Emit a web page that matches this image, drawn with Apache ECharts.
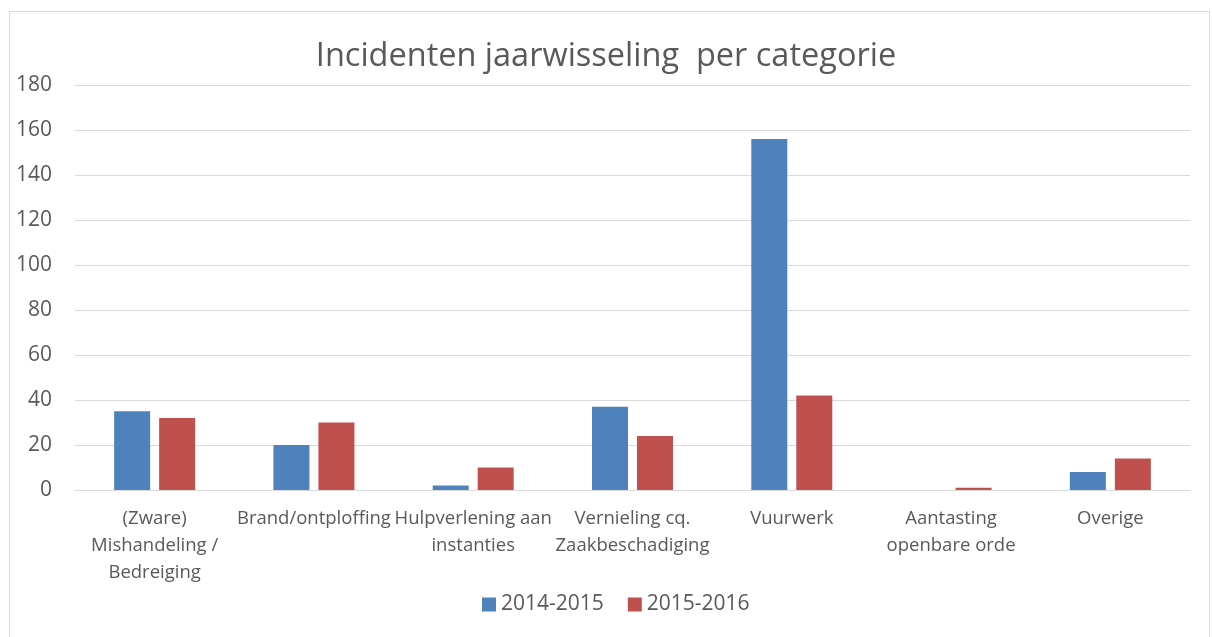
<!DOCTYPE html>
<html><head><meta charset="utf-8">
<script src="https://cdn.jsdelivr.net/npm/echarts@6/dist/echarts.min.js"></script>
<style>html,body{margin:0;padding:0;background:#fff}#c{width:1212px;height:637px}</style>
</head><body><div id="c"></div>
<script>
const categories = ["(Zware)\nMishandeling /\nBedreiging", "Brand/ontploffing", "Hulpverlening aan\ninstanties", "Vernieling cq.\nZaakbeschadiging", "Vuurwerk", "Aantasting\nopenbare orde", "Overige"];
const series2014 = [35, 20, 2, 37, 156, 0, 8];
const series2016 = [32, 30, 10, 24, 42, 1, 14];
const seriesNames = ["2014-2015", "2015-2016"];
const yTicks = {min: 0, max: 180, interval: 20};

const chart = echarts.init(document.getElementById('c'), null, {renderer: 'canvas'});
const font = "'Open Sans', sans-serif";
chart.setOption({
  animation: false,
  graphic: [{type: 'rect', left: 7, top: 9, shape: {width: 1200, height: 640}, style: {fill: 'none', stroke: '#d9d9d9', lineWidth: 1}, silent: true}],
  title: {text: 'Incidenten jaarwisseling  per categorie', left: 'center', top: 35,
    textStyle: {fontFamily: font, fontSize: 32.5, fontWeight: 'normal', color: '#595959'}},
  legend: {bottom: 17, left: 477, itemWidth: 14, itemHeight: 14, itemGap: 24, icon: 'rect',
    textStyle: {fontFamily: font, fontSize: 21, color: '#595959'}, data: seriesNames},
  grid: {left: 75, right: 22, top: 85, bottom: 147, containLabel: false},
  xAxis: {type: 'category', data: categories,
    axisLine: {show: true, lineStyle: {color: '#d9d9d9', width: 1}}, axisTick: {show: false},
    axisLabel: {interval: 0, fontFamily: font, fontSize: 18.5, color: '#595959', lineHeight: 27, margin: 15}},
  yAxis: {type: 'value', min: yTicks.min, max: yTicks.max, interval: yTicks.interval,
    axisLine: {show: false}, axisTick: {show: false},
    splitLine: {lineStyle: {color: '#d9d9d9', width: 1}},
    axisLabel: {fontFamily: font, fontSize: 21, color: '#595959', margin: 23}},
  series: [
    {name: seriesNames[0], type: 'bar', data: series2014, barWidth: 36, barGap: '25%',
      itemStyle: {color: '#4f81bd'}},
    {name: seriesNames[1], type: 'bar', data: series2016, barWidth: 36,
      itemStyle: {color: '#c0504d'}}
  ]
});
</script></body></html>
